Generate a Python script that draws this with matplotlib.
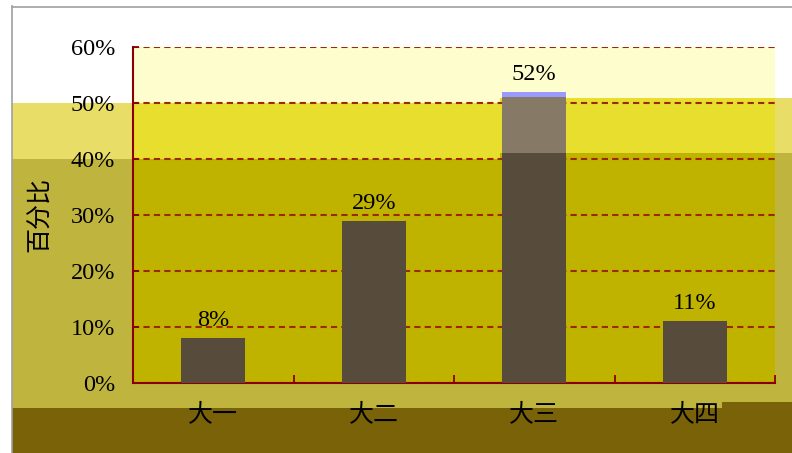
import numpy as np
import matplotlib
matplotlib.use('Agg')
import matplotlib.pyplot as plt
from matplotlib.patches import Rectangle

# data
grades = ['大一', '大二', '大三', '大四']
percent = [8, 29, 52, 11]
yticks = [0, 10, 20, 30, 40, 50, 60]
ylabel = '百分比'

W, H = 792, 453
fig = plt.figure(figsize=(W / 100, H / 100), dpi=100)
fig.patch.set_facecolor('white')

def px_rect(x0, y0, x1, y1, color, z=0):
    # pixel box (top-left origin) -> figure fraction
    r = Rectangle((x0 / W, 1 - y1 / H), (x1 - x0) / W, (y1 - y0) / H,
                  transform=fig.transFigure, facecolor=color, edgecolor='none', zorder=z)
    fig.patches.append(r)

# background layers (outside plot area)
px_rect(12, 103, 500, 159, '#E8DD66')
px_rect(12, 159, 500, 408, '#BFB43E')
px_rect(500, 98, 792, 153, '#E8DD66')
px_rect(500, 153, 792, 408, '#BFB43E')
px_rect(12, 408, 722, 453, '#7A6209')
px_rect(722, 402, 792, 453, '#7A6209')
# inside plot area
px_rect(133, 47, 500, 103, '#FDFDCE', 1)
px_rect(133, 103, 500, 159, '#E8DE2D', 1)
px_rect(133, 159, 500, 383, '#BFB300', 1)
px_rect(500, 47, 775, 98, '#FDFDCE', 1)
px_rect(500, 98, 775, 153, '#E8DE2D', 1)
px_rect(500, 153, 775, 383, '#BFB300', 1)

# frame lines
fig.lines.append(plt.Line2D([12 / W, 12 / W], [0, 1 - 6 / H], transform=fig.transFigure,
                            color='#A0A0A0', lw=1.2, zorder=2))
fig.lines.append(plt.Line2D([12 / W, 1], [1 - 6.5 / H, 1 - 6.5 / H], transform=fig.transFigure,
                            color='#A0A0A0', lw=1.2, zorder=2))

ax = fig.add_axes([133 / W, 1 - 383 / H, 642 / W, 336 / H])
ax.set_facecolor('none')
ax.set_zorder(3)

x = np.arange(len(grades))
bar_col = '#574C3B'
ax.bar(x, percent, width=0.4, color=bar_col, zorder=3)
# the tallest bar is washed out where the upper layer overlaps it
ax.bar(x[2], 10, bottom=41, width=0.4, color='#867A66', zorder=3)
ax.bar(x[2], percent[2] - 51, bottom=51, width=0.4, color='#9999FF', zorder=3)

num_font = ['Liberation Serif', 'Noto Sans CJK SC']
for xi, v in zip(x, percent):
    ax.annotate(f'{v}%', (xi, v), xytext=(0, 5), textcoords='offset points',
                ha='center', va='bottom', fontsize=17.5, family=num_font, zorder=5)

ax.set_xlim(-0.5, len(grades) - 0.5)
ax.set_ylim(0, 60)
ax.set_yticks(yticks)
ax.set_yticklabels([f'{t}%' for t in yticks], family=num_font, fontsize=17.5)
ax.set_xticks(x)
ax.set_xticklabels(grades, family=['Noto Sans CJK SC'], fontsize=18)
ax.set_xticks(np.arange(len(grades)) + 0.5, minor=True)
ax.tick_params(axis='x', which='major', length=0, pad=13)
ax.tick_params(axis='x', which='minor', direction='in', length=6, width=1.3, color='#8B0000')
ax.tick_params(axis='y', direction='in', length=4, width=1.3, color='#8B0000', pad=13)

ax.yaxis.grid(True, color='#9C2A00', lw=1.5, linestyle=(0, (3, 2)))
ax.set_axisbelow(True)
for s in ['top', 'right']:
    ax.spines[s].set_visible(False)
for s in ['left', 'bottom']:
    ax.spines[s].set_color('#8B0000')
    ax.spines[s].set_linewidth(1.5)

fig.text(40 / W, 1 - 215 / H, ylabel, rotation=90, ha='center', va='center',
         family=['Noto Sans CJK SC'], fontsize=18, zorder=5)

fig.savefig('out.png', dpi=100)
